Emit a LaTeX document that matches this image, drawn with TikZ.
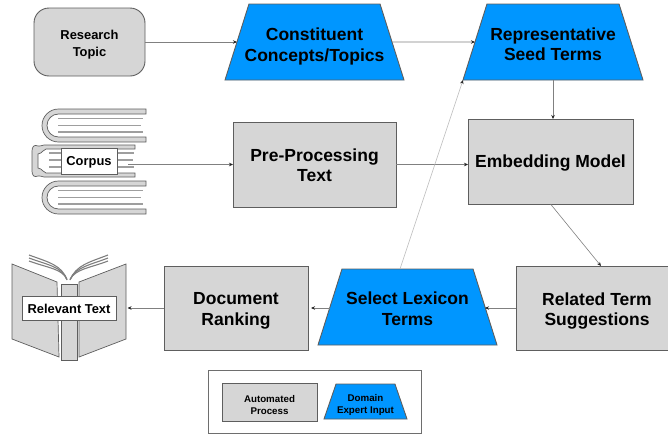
\documentclass[tikz,border=0pt]{standalone}
\usepackage{fontspec}
\setmainfont{Liberation Sans}
\usetikzlibrary{shapes.geometric,arrows.meta}
\definecolor{procgray}{HTML}{D6D6D6}
\definecolor{expblue}{HTML}{0096FF}
\definecolor{edgegray}{HTML}{5E5E5E}
% height, extra space above, first line, second line
\newcommand{\tzbox}[4]{\parbox[c][#1][c]{4pt}{\vspace*{#2}\centering\makebox[0pt]{#3}\\\makebox[0pt]{#4}}}
\tikzset{
  x=1pt,y=-1pt,
  drop/.style={execute at begin node={\rule{0pt}{#1}}},
  bigfont/.style={font=\fontsize{17.5}{20.5}\selectfont\bfseries},
  proc/.style={draw=edgegray,fill=procgray,line width=0.9pt,inner sep=0pt,outer sep=0pt,bigfont},
  expert/.style={draw=edgegray,fill=expblue,line width=0.9pt,inner sep=0pt,outer sep=0pt,trapezium,trapezium stretches body=true,bigfont},
  flow/.style={draw=black!50,line width=0.6pt,-{Stealth[length=4pt,width=3.5pt,color=black!85]}},
  thinflow/.style={draw=black!28,line width=0.6pt,-{Stealth[length=4pt,width=3.5pt,color=black!85]}},
  booklabel/.style={draw=edgegray,fill=white,line width=0.8pt,inner sep=0pt,outer sep=0pt,font=\fontsize{12.9}{14}\selectfont\bfseries},
  bk/.style={draw=edgegray,fill=procgray,line width=0.7pt},
  pg/.style={draw=edgegray!60,line width=1.7pt},
}
\begin{document}
\begin{tikzpicture}
\useasboundingbox (0,0) rectangle (668,434);
% closed books
\newcommand{\closedbook}[1]{
  \begin{scope}[shift={(0,#1)}]
    \path[bk] (146,0) -- (58.5,0) .. controls (49.4,0) and (42,7.4) .. (42,16.5)
      .. controls (42,25.6) and (49.4,33) .. (58.5,33) -- (146,33) -- (146,28) -- (58.5,28)
      .. controls (52.1,28) and (47,22.9) .. (47,16.5) .. controls (47,10.1) and (52.1,5) .. (58.5,5) -- (146,5) -- cycle;
    \draw[pg] (58,9.5) -- (143,9.5);
    \draw[pg] (58,16.5) -- (141,16.5);
    \draw[pg] (58,23) -- (143,23);
  \end{scope}}
\closedbook{109}
\closedbook{181}
% middle book
\path[bk] (135,145) -- (44,145) .. controls (41,145) and (40,147) .. (38,146) .. controls (34,144) and (32,147) .. (32,151)
  -- (32,171) .. controls (32,175) and (34,178) .. (38,176) .. controls (40,175) and (41,177) .. (44,177) -- (135,177) -- (135,173) -- (46,173)
  .. controls (42,172) and (43,169) .. (38,168) -- (38,154) .. controls (43,153) and (42,150) .. (46,149) -- (135,149) -- cycle;
\draw[pg] (49,153) -- (134,153);
\draw[pg] (49,160) -- (133,160);
\draw[pg] (49,167) -- (134,167);
\node[booklabel,minimum width=56pt,minimum height=26pt,drop=12pt] (corpus) at (89,161) {Corpus};
\coordinate (corpusout) at (128,164.5);
% open book
\path[bk] (12,264) -- (57,282) -- (59,357) -- (12,339) -- cycle;
\path[bk] (126,264) -- (79,282) -- (79,357) -- (126,339) -- cycle;
\path[bk] (61,284) rectangle (77,360);
\foreach \d in {0,3,6}{
  \draw[draw=edgegray!80,line width=1.1pt] (29,{255+\d}) .. controls (48,{262+\d}) and (62,{265+\d*.6}) .. (67,{280-\d*.1});
  \draw[draw=edgegray!80,line width=1.1pt] (108,{255+\d}) .. controls (90,{262+\d}) and (76,{265+\d*.6}) .. (70,{280-\d*.1});
}
\node[booklabel,minimum width=94pt,minimum height=24pt,drop=11pt] (relevant) at (69,308) {Relevant Text};
\coordinate (relevantout) at (127.5,308);
% main nodes
\node[proc,rounded corners=15pt,minimum width=111pt,font=\fontsize{12.9}{17}\selectfont\bfseries] (topic) at (89.5,42) {\tzbox{68pt}{6pt}{Research}{Topic}};
\node[expert,trapezium left angle=72.5,trapezium right angle=72.5,minimum width=179pt] (concepts) at (314.5,42) {\tzbox{76pt}{9pt}{Constituent}{Concepts/Topics}};
\node[expert,trapezium left angle=72.5,trapezium right angle=72.5,minimum width=180pt] (seed) at (553,42) {\tzbox{76pt}{4pt}{Representative}{Seed Terms}};
\node[proc,minimum width=163pt] (pre) at (314.5,164.5) {\tzbox{85pt}{1pt}{Pre-Processing}{Text}};
\node[proc,minimum width=165pt,minimum height=85pt,drop=15pt] (embed) at (550.5,161.5) {Embedding Model};
\node[proc,minimum width=162pt] (related) at (597,308) {\tzbox{84pt}{6pt}{Related Term}{Suggestions}};
\node[expert,trapezium left angle=72.5,trapezium right angle=72.5,minimum width=179pt] (select) at (407.5,307) {\tzbox{76pt}{3pt}{Select Lexicon}{Terms}};
\node[proc,minimum width=144pt] (rank) at (236,308) {\tzbox{84pt}{6pt}{Document}{Ranking}};
\coordinate (selecttop) at (400,269);
% legend
\node[draw=edgegray!90,line width=0.8pt,minimum width=213pt,minimum height=63pt,inner sep=0pt] (legend) at (314.5,401.5) {};
\node[proc,minimum width=95pt,font=\fontsize{9.75}{12.5}\selectfont\bfseries] (lauto) at (269.5,402) {\tzbox{38pt}{6pt}{Automated}{Process}};
\node[expert,trapezium left angle=71,trapezium right angle=71,minimum width=83pt,font=\fontsize{9.75}{12.5}\selectfont\bfseries] (lexp) at (365.5,401.5) {\tzbox{35pt}{7pt}{Domain}{Expert Input}};
% connectors
\draw[flow] (topic.east) -- (concepts.west);
\draw[flow] (concepts.east) -- (seed.west);
\draw[flow] (seed.south) -- (seed.south |- embed.north);
\draw[flow] (corpusout) -- (pre.west);
\draw[flow] (pre.east) -- (pre.east -| embed.west);
\draw[flow] (embed.south) -- ([xshift=4pt]related.north);
\draw[flow] (related.west) -- (related.west -| select.east);
\draw[flow,shorten >=3pt] (select.west |- rank.east) -- (rank.east);
\draw[flow] (rank.west) -- (relevantout);
\draw[thinflow] (selecttop) -- (seed.bottom left corner);
\end{tikzpicture}
\end{document}
